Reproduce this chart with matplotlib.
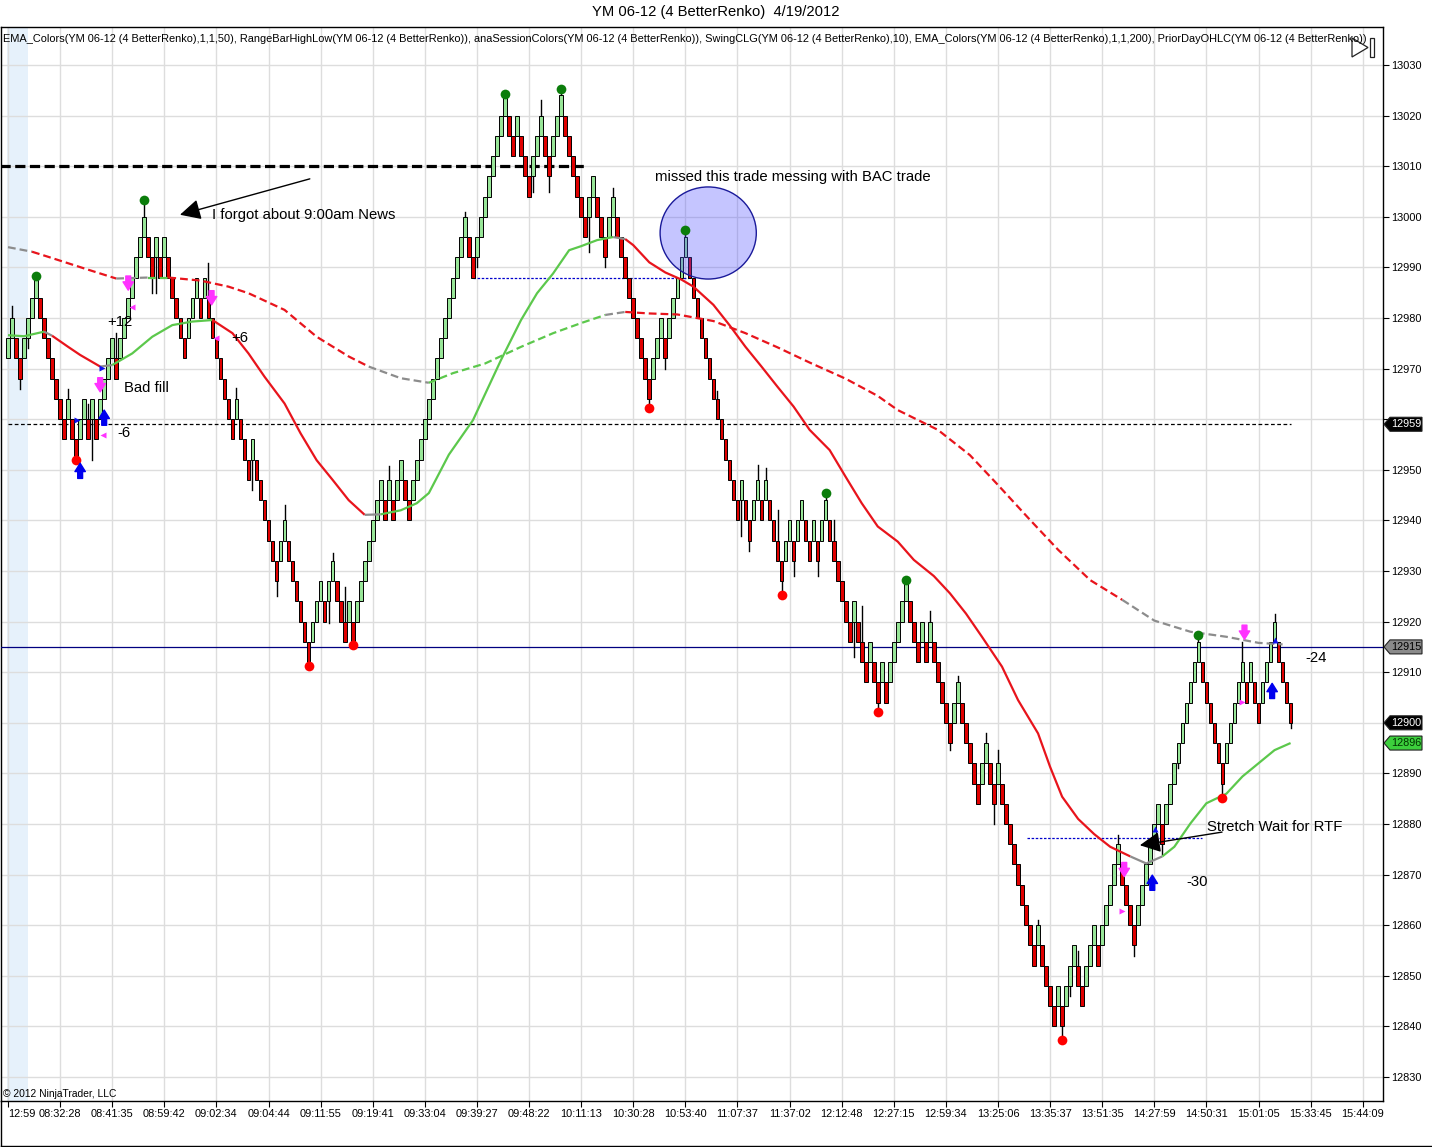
import matplotlib
matplotlib.use("Agg")
import matplotlib.pyplot as plt
from matplotlib.patches import Ellipse, Polygon, Rectangle
from matplotlib.lines import Line2D
from matplotlib.transforms import IdentityTransform

plt.rcParams['font.family'] = ['Liberation Sans', 'DejaVu Sans']

# ---------------- data ----------------
TITLE = "YM 06-12 (4 BetterRenko)  4/19/2012"
HEADER = ("EMA_Colors(YM 06-12 (4 BetterRenko),1,1,50), RangeBarHighLow(YM 06-12 (4 BetterRenko)), "
          "anaSessionColors(YM 06-12 (4 BetterRenko)), SwingCLG(YM 06-12 (4 BetterRenko),10), "
          "EMA_Colors(YM 06-12 (4 BetterRenko),1,1,200), PriorDayOHLC(YM 06-12 (4 BetterRenko))")
BRICK = 4

closes = [
    12976, 12980, 12972, 12968, 12976, 12980, 12984, 12988, 12980, 12976,
    12972, 12968, 12964, 12960, 12956, 12964, 12956, 12952, 12960, 12964,
    12956, 12964, 12956, 12964, 12968, 12972, 12976, 12968, 12976, 12980,
    12984, 12988, 12992, 12996, 13000, 12992, 12988, 12996, 12988, 12996,
    12988, 12984, 12980, 12976, 12972, 12980, 12984, 12988, 12980, 12988,
    12980, 12976, 12972, 12968, 12964, 12960, 12956, 12964, 12956, 12952,
    12948, 12956, 12948, 12944, 12940, 12936, 12932, 12928, 12936, 12940,
    12932, 12928, 12924, 12920, 12916, 12912, 12920, 12924, 12928, 12920,
    12928, 12932, 12924, 12920, 12916, 12924, 12916, 12924, 12928, 12932,
    12936, 12940, 12944, 12948, 12940, 12948, 12940, 12948, 12952, 12944,
    12940, 12948, 12952, 12956, 12960, 12964, 12968, 12972, 12976, 12980,
    12984, 12988, 12992, 12996, 13000, 12992, 12988, 12996, 13000, 13004,
    13008, 13012, 13016, 13020, 13024, 13016, 13012, 13020, 13012, 13008,
    13004, 13012, 13016, 13020, 13012, 13008, 13016, 13020, 13024, 13016,
    13012, 13008, 13004, 13000, 12996, 13004, 13008, 13000, 12996, 12992,
    13000, 13004, 12996, 12992, 12988, 12984, 12980, 12976, 12972, 12968,
    12964, 12972, 12976, 12980, 12972, 12980, 12984, 12988, 12992, 12996,
    12988, 12984, 12980, 12976, 12972, 12968, 12964, 12960, 12956, 12952,
    12948, 12944, 12940, 12948, 12940, 12936, 12944, 12948, 12940, 12948,
    12940, 12936, 12932, 12928, 12936, 12940, 12932, 12940, 12944, 12936,
    12932, 12940, 12932, 12940, 12944, 12936, 12932, 12928, 12924, 12920,
    12916, 12924, 12916, 12912, 12908, 12916, 12908, 12904, 12912, 12904,
    12912, 12916, 12920, 12924, 12928, 12920, 12916, 12912, 12920, 12912,
    12920, 12912, 12908, 12904, 12900, 12896, 12904, 12908, 12900, 12896,
    12892, 12888, 12884, 12892, 12896, 12888, 12884, 12892, 12884, 12880,
    12876, 12872, 12868, 12864, 12860, 12856, 12852, 12860, 12852, 12848,
    12844, 12840, 12848, 12840, 12848, 12852, 12856, 12848, 12844, 12852,
    12856, 12860, 12852, 12860, 12864, 12868, 12872, 12876, 12868, 12864,
    12860, 12856, 12864, 12868, 12872, 12876, 12880, 12884, 12876, 12884,
    12888, 12892, 12896, 12900, 12904, 12908, 12912, 12916, 12908, 12904,
    12900, 12896, 12892, 12888, 12896, 12900, 12904, 12908, 12912, 12904,
    12912, 12904, 12900, 12908, 12912, 12916, 12920, 12912, 12908, 12904,
    12900,
]
first_up = True

wick_bar = [1, 3, 5, 15, 20, 21, 27, 36, 37, 50, 57, 61, 67, 69, 80, 81, 84, 95,
            114, 117, 131, 133, 135, 145, 149, 151, 164, 177, 183, 185, 187, 189,
            192, 196, 202, 206, 211, 213, 230, 235, 237, 244, 246, 247, 257, 265,
            267, 277, 281, 288, 292, 308, 316, 320]
wick_price = [12982.3, 12966.0, 12974.0, 12966.0, 12963.0, 12952.0, 12977.0, 12985.0,
              12985.0, 12990.8, 12966.2, 12946.0, 12925.0, 12943.0, 12919.7, 12933.5,
              12926.9, 12950.8, 13001.0, 12990.0, 13005.0, 13023.0, 13005.0, 12993.0,
              12990.0, 13005.6, 12970.0, 12965.6, 12937.0, 12934.0, 12951.0, 12950.3,
              12942.0, 12929.0, 12929.0, 12940.0, 12913.0, 12923.0, 12922.0, 12894.6,
              12909.3, 12898.0, 12880.0, 12894.6, 12861.0, 12846.0, 12855.0, 12877.8,
              12854.0, 12874.0, 12891.0, 12915.9, 12921.5, 12899.0]

swing_hi_bar = [7, 34, 124, 138, 169, 204, 224, 297]
swing_hi_price = [12988.3, 13003.3, 13024.3, 13025.3, 12997.4, 12945.4, 12928.2, 12917.4]
swing_lo_bar = [17, 75, 86, 160, 193, 217, 263, 303]
swing_lo_price = [12952.0, 12911.2, 12915.4, 12962.2, 12925.3, 12902.1, 12837.3, 12885.1]

ema50_bar = [0, 4, 9, 11, 15, 18, 23, 26, 31, 36, 41, 46, 51, 56, 60, 64, 69, 73, 77,
             81, 85, 89, 93, 98, 102, 105, 110, 116, 123, 128, 132, 136, 140, 143, 147,
             151, 154, 156, 160, 164, 168, 171, 176, 180, 184, 188, 192, 196, 200, 205,
             209, 213, 217, 222, 226, 231, 235, 239, 243, 248, 252, 257, 260, 263, 267,
             271, 275, 280, 284, 288, 291, 295, 299, 304, 308, 312, 316, 320]
ema50_val = [12976.6, 12976.4, 12977.3, 12976.5, 12974.3, 12972.7, 12970.4, 12970.7,
             12973.0, 12976.3, 12978.6, 12979.3, 12979.6, 12977.0, 12973.0, 12968.4,
             12963.1, 12957.2, 12951.9, 12948.0, 12944.0, 12941.1, 12941.2, 12942.0,
             12943.4, 12945.4, 12953.0, 12959.8, 12971.7, 12979.6, 12984.9, 12988.8,
             12993.4, 12994.2, 12995.4, 12996.0, 12995.6, 12994.4, 12991.0, 12989.0,
             12987.6, 12986.2, 12982.6, 12978.6, 12974.3, 12970.4, 12966.4, 12962.5,
             12957.9, 12953.9, 12948.6, 12943.4, 12938.8, 12935.8, 12932.2, 12929.0,
             12925.6, 12921.6, 12917.0, 12911.1, 12904.5, 12897.9, 12891.3, 12885.4,
             12881.0, 12878.0, 12875.5, 12873.6, 12872.2, 12873.6, 12875.5, 12880.1,
             12884.1, 12886.0, 12889.4, 12892.0, 12894.6, 12896.0]
ema50_state_start = [0, 2, 9, 11, 23, 25, 51, 89, 93, 151, 155, 280, 287]
ema50_state = ['flat', 'up', 'flat', 'down', 'flat', 'up', 'down', 'flat', 'up',
               'flat', 'down', 'flat', 'up']

ema200_bar = [0, 6, 10, 19, 27, 35, 40, 48, 55, 60, 69, 77, 85, 90, 98, 105, 111, 119,
              128, 136, 143, 149, 154, 160, 167, 176, 184, 192, 200, 209, 217, 222, 232,
              240, 247, 255, 262, 270, 278, 286, 295, 304, 312, 318]
ema200_val = [12994.0, 12993.1, 12992.1, 12989.8, 12987.8, 12988.0, 12988.0, 12987.4,
              12986.2, 12984.9, 12981.6, 12976.3, 12972.4, 12970.4, 12968.1, 12967.2,
              12969.1, 12971.0, 12974.3, 12977.0, 12979.0, 12980.6, 12981.2, 12980.9,
              12980.7, 12979.4, 12977.0, 12974.2, 12971.2, 12968.0, 12964.6, 12961.8,
              12957.9, 12952.9, 12947.0, 12940.1, 12934.2, 12928.2, 12924.3, 12920.2,
              12918.0, 12917.0, 12915.8, 12915.5]
ema200_state_start = [0, 8, 25, 32, 40, 90, 105, 148, 156, 277]
ema200_state = ['flat', 'down', 'flat', 'up', 'down', 'flat', 'up', 'flat', 'down', 'flat']

prior_day_level = 13010
prior_day_end_bar = 144
pivot_level = 12959
pivot_end_bar = 320
blue_level = 12915
range_line_start = [116, 254.3]
range_line_end = [170, 298]
range_line_level = [12988, 12877.2]

tag_price = [12959, 12915, 12900, 12896]

xtick_labels = ["12:59", "08:32:28", "08:41:35", "08:59:42", "09:02:34", "09:04:44",
                "09:11:55", "09:19:41", "09:33:04", "09:39:27", "09:48:22", "10:11:13",
                "10:30:28", "10:53:40", "11:07:37", "11:37:02", "12:12:48", "12:27:15",
                "12:59:34", "13:25:06", "13:35:37", "13:51:35", "14:27:59", "14:50:31",
                "15:01:05", "15:33:45", "15:44:09"]
BARS_PER_TICK = 13
ytick_values = list(range(12830, 13031, 10))
session_band = (0, 5)

buy_arrow_bar = [18, 24, 285.5, 315.4]
buy_arrow_tip = [12951.3, 12961.8, 12869.9, 12907.8]
sell_arrow_bar = [30, 23, 50.8, 308.5, 278.5]
sell_arrow_tip = [12985.5, 12965.4, 12982.6, 12916.5, 12869.6]
entry_tri_bar = [17.3, 23.4]
entry_tri_price = [12959.9, 12970.2]
small_up_bar = [286.2, 316.1]
small_up_price = [12879.0, 12916.3]
exit_left_bar = [30.9, 23.8, 51.9]
exit_left_price = [12982.2, 12956.9, 12976.0]
exit_right_bar = [277.9, 307.8]
exit_right_price = [12862.8, 12904.1]

notes = [
    ("I forgot about 9:00am News", 50.9, 13000.4),
    ("missed this trade messing with BAC trade", 161.4, 13007.9),
    ("+12", 24.7, 12979.3),
    ("+6", 55.8, 12976.0),
    ("Bad fill", 28.9, 12966.2),
    ("-6", 27.2, 12957.3),
    ("-24", 323.6, 12912.8),
    ("-30", 293.9, 12868.5),
    ("Stretch Wait for RTF", 299.2, 12879.4),
]
note_arrows = [((75.3, 13007.5), (42.9, 13000.4)), ((302.9, 12878.4), (282.4, 12875.8))]
circle_center = (174.7, 12996.8)
circle_size = (24.0, 18.2)

# ---------------- figure ----------------
W, H = 1432, 1147
fig = plt.figure(figsize=(W / 100, H / 100), dpi=100)
ax = fig.add_axes([1 / W, 1 - 1101 / H, 1382 / W, 1074 / H])
ax.set_xlim(-1.747, 343.06)
ax.set_ylim(12825.26, 13037.51)

RED = '#e00000'
GREEN_FILL = '#98e698'
LINE_RED = '#e8141c'
LINE_GREEN = '#5cc84c'
LINE_GRAY = '#8c8c8c'
MAGENTA = '#ff33ff'
BLUE = '#0000ee'

# grid / axes
xt = [i * BARS_PER_TICK for i in range(len(xtick_labels))]
ax.set_xticks(xt)
ax.set_xticklabels(xtick_labels, fontsize=7.9)
ax.set_yticks(ytick_values)
ax.set_yticklabels(['' if v in (12960, 12900) else str(v) for v in ytick_values], fontsize=7.9)
ax.yaxis.tick_right()
ax.tick_params(axis='both', direction='out', length=4, width=0.8, colors='black', pad=2)
ax.grid(True, color='#dddddd', lw=1, zorder=0)
for s in ax.spines.values():
    s.set_color('black')
    s.set_linewidth(1)
ax.get_xticklabels()[0].set_ha('left')

ax.axvspan(session_band[0] - 0.25, session_band[1], color='#e6f1fb', zorder=0.5, lw=0)

# horizontal levels
ax.plot([-2, prior_day_end_bar], [prior_day_level] * 2, color='black', lw=2.3,
        dashes=(3.2, 1.4), zorder=3)
ax.plot([0, pivot_end_bar], [pivot_level] * 2, color='black', lw=0.9, dashes=(3, 2), zorder=3)
ax.axhline(blue_level, color='#000080', lw=0.9, zorder=3)
for a, b, lv in zip(range_line_start, range_line_end, range_line_level):
    ax.plot([a, b], [lv, lv], color='#0000cc', lw=0.9, dashes=(2, 1.3), zorder=3)

# bricks
lows, colors = [], []
prev = None
for i, c in enumerate(closes):
    up = first_up if prev is None else c > prev
    lows.append(c - BRICK if up else c)
    colors.append(GREEN_FILL if up else RED)
    prev = c
xs = list(range(len(closes)))

# wicks
for b, p in zip(wick_bar, wick_price):
    lo = lows[b]
    hi = lo + BRICK
    if p > hi:
        ax.plot([b, b], [hi, p], color='black', lw=1, zorder=4)
    elif p < lo:
        ax.plot([b, b], [p, lo], color='black', lw=1, zorder=4)
for b, p in zip(swing_hi_bar, swing_hi_price):
    ax.plot([b, b], [lows[b] + BRICK, p], color='black', lw=1, zorder=4)
for b, p in zip(swing_lo_bar, swing_lo_price):
    ax.plot([b, b], [p, lows[b]], color='black', lw=1, zorder=4)

ax.bar(xs, [BRICK] * len(closes), bottom=lows, width=0.92, color=colors,
       edgecolor='black', linewidth=0.7, zorder=5)

# EMA lines
def state_at(m, starts, states):
    s = states[0]
    for st, nm in zip(starts, states):
        if m >= st:
            s = nm
    return s

cmap = {'up': LINE_GREEN, 'down': LINE_RED, 'flat': LINE_GRAY}

def draw_ema(bars, vals, starts, states, **kw):
    runs = []
    for k in range(len(bars) - 1):
        st = state_at((bars[k] + bars[k + 1]) / 2, starts, states)
        if runs and runs[-1][0] == st:
            runs[-1][1].append(k + 1)
        else:
            runs.append([st, [k, k + 1]])
    for st, idx in runs:
        ax.plot([bars[j] for j in idx], [vals[j] for j in idx], color=cmap[st],
                solid_capstyle='butt', zorder=6, **kw)

draw_ema(ema50_bar, ema50_val, ema50_state_start, ema50_state, lw=1.6)
draw_ema(ema200_bar, ema200_val, ema200_state_start, ema200_state, lw=1.6, dashes=(3.5, 1.8))

# swing dots
ax.plot(swing_hi_bar, swing_hi_price, 'o', color='#0b7d0b', ms=7, zorder=8, mec='none')
ax.plot(swing_lo_bar, swing_lo_price, 'o', color='#ff0000', ms=7, zorder=8, mec='none')

# trade markers
for b, t in zip(buy_arrow_bar, buy_arrow_tip):
    ax.annotate('', xy=(b, t), xytext=(b, t - 3.0),
                arrowprops=dict(arrowstyle='simple,head_length=0.6,head_width=0.75,tail_width=0.35',
                                fc=BLUE, ec=BLUE, shrinkA=0, shrinkB=0, mutation_scale=10),
                zorder=9)
for b, t in zip(sell_arrow_bar, sell_arrow_tip):
    ax.annotate('', xy=(b, t), xytext=(b, t + 2.8),
                arrowprops=dict(arrowstyle='simple,head_length=0.6,head_width=0.75,tail_width=0.35',
                                fc=MAGENTA, ec=MAGENTA, shrinkA=0, shrinkB=0, mutation_scale=10),
                zorder=9)
ax.plot(entry_tri_bar, entry_tri_price, '>', color='#1010ee', ms=5, zorder=9, mec='none')
ax.plot(small_up_bar, small_up_price, '^', color='#1010ee', ms=5, zorder=9, mec='none')
ax.plot(exit_left_bar, exit_left_price, '<', color=MAGENTA, ms=5, zorder=9, mec='none')
ax.plot(exit_right_bar, exit_right_price, '>', color=MAGENTA, ms=5, zorder=9, mec='none')

# annotations
ax.add_patch(Ellipse(circle_center, circle_size[0], circle_size[1], facecolor=(0.3, 0.3, 1.0, 0.32),
                     edgecolor='#1a1a9a', lw=1, zorder=7))
for s, x, y in notes:
    ax.text(x, y, s, fontsize=10.7, ha='left', va='center', color='black', zorder=10)
for (x0, y0), (x1, y1) in note_arrows:
    ax.annotate('', xy=(x1, y1), xytext=(x0, y0),
                arrowprops=dict(arrowstyle='-|>,head_length=0.9,head_width=0.45', color='black',
                                lw=1, shrinkA=0, shrinkB=0, mutation_scale=14), zorder=10)

# header texts
fig.text(0.5, 1 - 12 / H, TITLE, ha='center', va='center', fontsize=10.6)
fig.text(3 / W, 1 - 39 / H, HEADER, ha='left', va='center', fontsize=7.88)
fig.text(3 / W, 1 - 1094 / H, "\u00a9 2012 NinjaTrader, LLC", ha='left', va='center', fontsize=7.4)

# outer border
fig.add_artist(Line2D([1 / W, 1 / W], [1 - 1146 / H, 1 - 1101 / H], color='black', lw=1))
fig.add_artist(Line2D([1 / W, 1431 / W], [1 - 1146 / H, 1 - 1146 / H], color='black', lw=1))

# scroll button glyph (top right)
def px(x, y):
    return (x / W, 1 - y / H)
fig.add_artist(Polygon([px(1352, 38), px(1352, 57), px(1368, 47.5)], closed=True,
                       transform=fig.transFigure, fc='white', ec='#222222', lw=0.9))
fig.add_artist(Rectangle(px(1370, 57), 4 / W, 19 / H, transform=fig.transFigure,
                         fc='white', ec='#222222', lw=0.9))

# price tags on axis
fig.canvas.draw()
tag_style = {12959: ('black', 'white'), 12915: ('#8a8a8a', 'black'),
             12900: ('black', 'white'), 12896: ('#3ccf3c', '#003300')}
xr = ax.transAxes.transform((1, 0))[0]
for p in tag_price:
    fc, tc = tag_style[p]
    yd = ax.transData.transform((0, p))[1]
    verts = [(xr + 1, yd), (xr + 7, yd + 7), (xr + 39, yd + 7), (xr + 39, yd - 7), (xr + 7, yd - 7)]
    fig.add_artist(Polygon(verts, closed=True, transform=IdentityTransform(), fc=fc,
                           ec='#222222', lw=0.8, zorder=20))
    fig.text(xr + 23, yd, str(p), transform=IdentityTransform(), ha='center', va='center',
             color=tc, fontsize=7.8, zorder=21)

fig.savefig('out.png', dpi=100)
